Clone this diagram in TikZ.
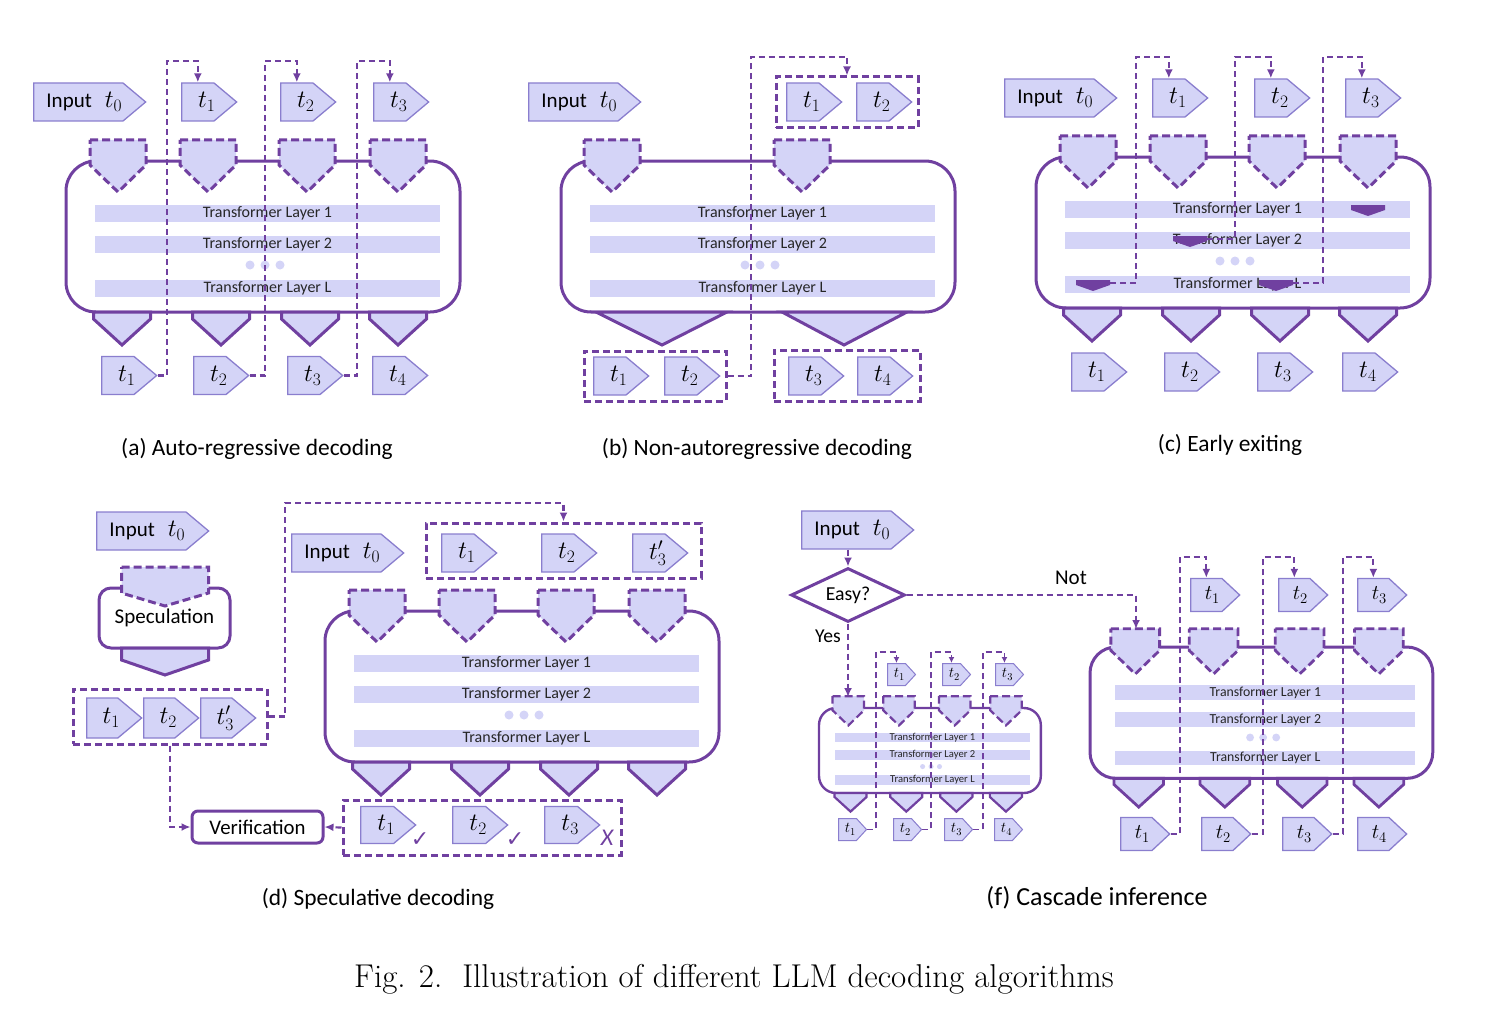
\RequirePackage{fix-cm}
\documentclass[tikz,border=0pt]{standalone}
\usepackage{fontspec}
\usetikzlibrary{shapes.symbols}
\usetikzlibrary{shapes.geometric}
\usetikzlibrary{arrows.meta}

\newfontfamily\calfont{Carlito}
\newfontfamily\dejafont{DejaVu Sans}

\definecolor{pur}{HTML}{7040A0}
\definecolor{lav}{HTML}{D4D4F7}
\definecolor{tokline}{HTML}{8A7ECE}

% token text, pushed right so it sits in the middle of the arrow
\newcommand{\tk}[2][9pt]{\kern#1$t#2$\kern-#1}
\newcommand{\inp}{\kern6pt Input\hspace{13pt}{\fontsize{25}{26}\selectfont$t_0$}\kern-6pt}

\tikzset{
  tok/.style={shape=signal, signal to=east, signal pointer angle=80, draw=tokline, fill=lav,
    line width=1.3pt, inner sep=0pt, minimum width=55, minimum height=38, anchor=west,
    font=\fontsize{25}{26}\selectfont},
  inp/.style={tok, minimum width=112, font=\calfont\fontsize{21}{24}\selectfont},
  fstok/.style={tok, minimum width=28, minimum height=22, signal pointer angle=95, line width=1pt,
    font=\fontsize{15}{16}\selectfont},
  fltok/.style={tok, minimum width=49, minimum height=33, signal pointer angle=86,
    font=\fontsize{21}{22}\selectfont},
  grp/.style={draw=pur, line width=3pt, dash pattern=on 7pt off 4pt, inner sep=0pt},
  fb/.style={draw=pur, line width=2.2pt, dash pattern=on 6pt off 4pt, -{Latex[length=9pt,width=8pt]}},
  fbs/.style={fb, line width=1.7pt, -{Latex[length=6pt,width=6pt]}},
  inpent/.style={draw=pur, fill=lav, line width=3pt, dash pattern=on 8pt off 4pt},
  outpent/.style={draw=pur, fill=lav, line width=3pt},
  mbox/.style={draw=pur, fill=white, line width=3pt},
  layer/.style={fill=lav},
  ltext/.style={font=\calfont\fontsize{#1}{#1}\selectfont, text=black!85},
  word/.style={font=\calfont\fontsize{21}{24}\selectfont},
  subcap/.style={font=\calfont\fontsize{23.4}{28}\selectfont},
  okm/.style={text=pur, font=\dejafont\fontsize{22}{22}\selectfont},
}

% transformer block: corner radius, layer font size, line width
\newcommand{\llmbox}[3]{%
  \draw[mbox, line width=#3, rounded corners=#1] (0,0) rectangle (394,151);
  \fill[layer] (29,44) rectangle (374,61);
  \fill[layer] (29,75) rectangle (374,92);
  \fill[layer] (29,119) rectangle (374,136);
  \fill[layer] (184,104) circle (4.5);
  \fill[layer] (199,104) circle (4.5);
  \fill[layer] (214,104) circle (4.5);
  \node[ltext=#2] at (201.5,52.5) {Transformer Layer 1};
  \node[ltext=#2] at (201.5,83.5) {Transformer Layer 2};
  \node[ltext=#2] at (201.5,127.5) {Transformer Layer L};
}
\newcommand{\inpent}[2]{\draw[inpent, line width=#2] ({#1-28},-21) -- ({#1+28},-21) -- ({#1+28},4) -- (#1,31) -- ({#1-28},4) -- cycle;}
\newcommand{\outpent}[2]{\draw[outpent, line width=#2] ({#1-28.5},151) -- ({#1+28.5},151) -- ({#1+28.5},158) -- (#1,184) -- ({#1-28.5},158) -- cycle;}
\newcommand{\llmpents}[1]{%
  \inpent{52}{#1} \inpent{142}{#1} \inpent{241}{#1} \inpent{332}{#1}
  \outpent{56}{#1} \outpent{155}{#1} \outpent{244}{#1} \outpent{332}{#1}
}
\newcommand{\exitmark}[2]{\fill[pur] ({#1-17},#2) -- ({#1+17},#2) -- ({#1+17},{#2+5}) -- (#1,{#2+11}) -- ({#1-17},{#2+5}) -- cycle;}

\begin{document}
\begin{tikzpicture}[x=1pt, y=-1pt]
  \useasboundingbox (0,0) rectangle (1488,1014);

  % (a) auto-regressive
  \begin{scope}[shift={(66,161)}]
    \llmbox{30}{16}{3pt}
    \llmpents{3pt}
  \end{scope}
  \node[inp] (ain) at (33,102) {\inp};
  \node[tok] (at1) at (181,102) {\tk{_1}};
  \node[tok] (at2) at (280,102) {\tk{_2}};
  \node[tok] (at3) at (373,102) {\tk{_3}};
  \node[tok] (ab1) at (101,375.5) {\tk{_1}};
  \node[tok] (ab2) at (193,375.5) {\tk{_2}};
  \node[tok] (ab3) at (287,375.5) {\tk{_3}};
  \node[tok] (ab4) at (372,375.5) {\tk{_4}};
  \draw[fb] (ab1.east) -| (167,61) -| (at1.north);
  \draw[fb] (ab2.east) -| (265,61) -| (at2.north);
  \draw[fb] (ab3.east) -| (357,61) -| (at3.north);
  \node[subcap] (capa) at (257,449) {(a) Auto-regressive decoding};

  % (b) non-autoregressive
  \begin{scope}[shift={(561,161)}]
    \llmbox{30}{16}{3pt}
    \inpent{51}{3pt} \inpent{241}{3pt}
    \draw[outpent] (35,151) -- (166,151) -- (101,184) -- cycle;
    \draw[outpent] (221,151) -- (346,151) -- (283,184) -- cycle;
  \end{scope}
  \node[inp] (bin) at (528,102) {\inp};
  \node[tok] (bt1) at (786,102) {\tk{_1}};
  \node[tok] (bt2) at (856,102) {\tk{_2}};
  \node[tok] (bb1) at (593,376) {\tk{_1}};
  \node[tok] (bb2) at (664,376) {\tk{_2}};
  \node[tok] (bb3) at (788,376) {\tk{_3}};
  \node[tok] (bb4) at (857,376) {\tk{_4}};
  \node[grp, minimum width=142, minimum height=51] (bgT) at (847,102.5) {};
  \node[grp, minimum width=142, minimum height=50] (bgL) at (655,376) {};
  \node[grp, minimum width=146, minimum height=51] (bgR) at (847,375.5) {};
  \draw[fb] (bgL.east) -| (751,57) -| (bgT.north);
  \node[subcap] (capb) at (757,449) {(b) Non-autoregressive decoding};

  % (c) early exiting
  \begin{scope}[shift={(1036,157)}]
    \llmbox{30}{16}{3pt}
    \llmpents{3pt}
  \end{scope}
  \exitmark{1368}{205}
  \exitmark{1190}{236}
  \exitmark{1093}{280}
  \exitmark{1276}{280}
  \coordinate (cx1) at (1110,283);
  \coordinate (cx2) at (1207,239);
  \coordinate (cx3) at (1293,283);
  \node[inp] (cin) at (1004,98) {\inp};
  \node[tok] (ct1) at (1152,98) {\tk{_1}};
  \node[tok] (ct2) at (1254,98) {\tk{_2}};
  \node[tok] (ct3) at (1345,98) {\tk{_3}};
  \node[tok] (cb1) at (1071,372) {\tk{_1}};
  \node[tok] (cb2) at (1164,372) {\tk{_2}};
  \node[tok] (cb3) at (1257,372) {\tk{_3}};
  \node[tok] (cb4) at (1342,372) {\tk{_4}};
  \draw[fb] (cx1) -| (1136,57) -| (ct1.north);
  \draw[fb] (cx2) -| (1235,57) -| (ct2.north);
  \draw[fb] (cx3) -| (1323,57) -| (ct3.north);
  \node[subcap] (capc) at (1230,445) {(c) Early exiting};

  % (d) speculative
  \node[mbox, rounded corners=12, minimum width=131, minimum height=60, word] (spec) at (164.5,618) {Speculation};
  \draw[outpent] (121.5,648) -- (208.5,648) -- (208.5,660) -- (165,675) -- (121.5,660) -- cycle;
  \draw[inpent] (121.5,567) -- (208.5,567) -- (208.5,593) -- (165,606) -- (121.5,593) -- cycle;
  \node[inp] (din1) at (96,531) {\inp};
  \node[tok, minimum height=40] (dt1) at (86,718) {\tk{_1}};
  \node[tok, minimum height=40] (dt2) at (143,718) {\tk{_2}};
  \node[tok, minimum height=40] (dt3) at (200,718) {\tk{'_3}};
  \node[grp, minimum width=194, minimum height=55] (dgrp) at (170,716.5) {};
  \begin{scope}[shift={(325,611)}]
    \llmbox{30}{16}{3pt}
    \llmpents{3pt}
  \end{scope}
  \node[inp] (din2) at (291,553) {\inp};
  \node[tok] (dtt1) at (441,553) {\tk{_1}};
  \node[tok] (dtt2) at (541,553) {\tk{_2}};
  \node[tok] (dtt3) at (632,553) {\tk{'_3}};
  \node[grp, minimum width=275, minimum height=55] (tgrp) at (563.5,550.5) {};
  \node[tok, minimum height=37] (dbt1) at (360,825) {\tk{_1}};
  \node[tok, minimum height=37] (dbt2) at (452,825) {\tk{_2}};
  \node[tok, minimum height=37] (dbt3) at (544,825) {\tk{_3}};
  \node[okm] (ok1) at (420,840) {✓};
  \node[okm] (ok2) at (515,840) {✓};
  \node[text=pur, font=\calfont\itshape\fontsize{24}{24}\selectfont] (nok) at (607,838) {X};
  \node[grp, minimum width=278, minimum height=55] (bgrp) at (482,827.5) {};
  \node[mbox, rounded corners=6, minimum width=131, minimum height=32,
    font=\calfont\fontsize{20.8}{24}\selectfont] (ver) at (257.5,827) {Verification};
  \draw[fb] (dgrp.east) -| (285,503) -| (tgrp.north);
  \draw[fb] (dgrp.south) |- (ver.west);
  \draw[fb] (bgrp.west) -- (ver.east);
  \node[subcap] (capd) at (378,899) {(d) Speculative decoding};

  % (f) cascade
  \node[inp] (fin) at (801,530) {\inp};
  \node[diamond, aspect=2.1, draw=pur, fill=white, line width=3pt, minimum width=114, minimum height=54,
    inner sep=0pt, font=\calfont\fontsize{19.8}{22}\selectfont] (easy) at (848,595) {Easy?};
  \begin{scope}[shift={(819,708)}, scale=0.563]
    \llmbox{17}{10.6}{2.4pt}
    \llmpents{2.2pt}
  \end{scope}
  \begin{scope}[shift={(1090,647)}, scale=0.87]
    \llmbox{26}{13.8}{3pt}
    \llmpents{2.8pt}
  \end{scope}
  \coordinate (fsp1) at (848,697);
  \coordinate (flp1) at (1136,629);
  \node[fstok] (fst1) at (887,674.5) {\tk[3pt]{_1}};
  \node[fstok] (fst2) at (942,674.5) {\tk[3pt]{_2}};
  \node[fstok] (fst3) at (995,674.5) {\tk[3pt]{_3}};
  \node[fstok] (fsb1) at (838,829.5) {\tk[3pt]{_1}};
  \node[fstok] (fsb2) at (893,829.5) {\tk[3pt]{_2}};
  \node[fstok] (fsb3) at (944,829.5) {\tk[3pt]{_3}};
  \node[fstok] (fsb4) at (994,829.5) {\tk[3pt]{_4}};
  \node[fltok] (flt1) at (1190,595) {\tk[6pt]{_1}};
  \node[fltok] (flt2) at (1278,595) {\tk[6pt]{_2}};
  \node[fltok] (flt3) at (1357,595) {\tk[6pt]{_3}};
  \node[fltok] (flb1) at (1120,834) {\tk[6pt]{_1}};
  \node[fltok] (flb2) at (1201,834) {\tk[6pt]{_2}};
  \node[fltok] (flb3) at (1282,834) {\tk[6pt]{_3}};
  \node[fltok] (flb4) at (1357,834) {\tk[6pt]{_4}};
  \draw[fb] (fin.south -| easy.north) -- (easy.north);
  \draw[fb] (easy.east) -| (flp1);
  \draw[fb] (easy.south) -- (fsp1);
  \node[word, font=\calfont\fontsize{19.6}{22}\selectfont] (yes) at (828,636) {Yes};
  \node[word] (not) at (1071,578) {Not};
  \draw[fbs] (fsb1.east) -| (876,652) -| (fst1.north);
  \draw[fbs] (fsb2.east) -| (931,652) -| (fst2.north);
  \draw[fbs] (fsb3.east) -| (983,652) -| (fst3.north);
  \draw[fb] (flb1.east) -| (1180,557) -| (flt1.north);
  \draw[fb] (flb2.east) -| (1263,557) -| (flt2.north);
  \draw[fb] (flb3.east) -| (1343,557) -| (flt3.north);
  \node[subcap, font=\calfont\fontsize{26}{30}\selectfont] (capf) at (1097,898) {(f) Cascade inference};

  \node[font=\fontsize{33}{36}\selectfont] (fig) at (734,979) {Fig. 2.\ \ Illustration of different LLM decoding algorithms};
\end{tikzpicture}
\end{document}
